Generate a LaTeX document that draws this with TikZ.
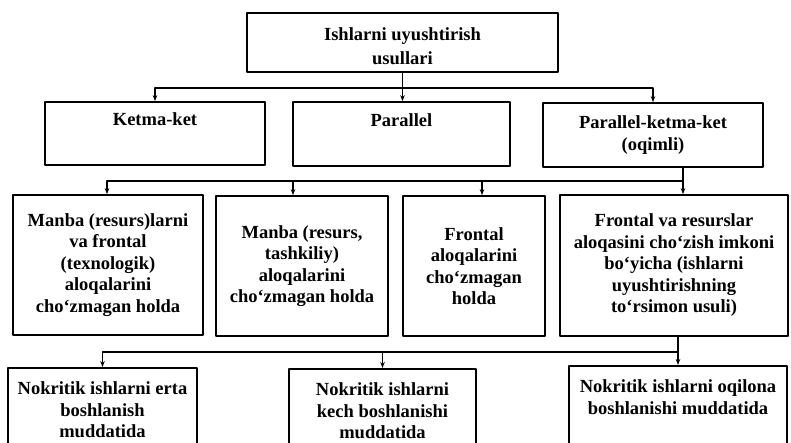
\documentclass[tikz,border=0pt]{standalone}
\usepackage{fontspec}
\setmainfont{Liberation Serif}
\usetikzlibrary{arrows.meta,calc}

\begin{document}
\begin{tikzpicture}[x=1pt, y=-1pt, >={Stealth[length=6pt,width=4.5pt]}, line join=round,
  box/.style={draw, line width=1.7pt, inner sep=0pt, align=center,
    font=\fontsize{18.5}{21.5}\selectfont\bfseries},
  openbox/.style={box, anchor=north, inner ysep=14pt, text depth=75pt},
  link/.style={line width=1.3pt}]
  \useasboundingbox (0,0) rectangle (791,442);
  % top
  \node[box, minimum width=311, minimum height=59, font=\fontsize{18.5}{23.5}\selectfont\bfseries] (top) at (402.5,42.5) {\rule{0pt}{20pt}Ishlarni uyushtirish\\usullari};
  % second row
  \node[box, minimum width=220, minimum height=63] (ketma) at (155,133.5) {Ketma-ket\\\strut};
  \node[box, minimum width=217, minimum height=64] (par) at (401.5,134) {Parallel\\\strut};
  \node[box, minimum width=220, minimum height=64] (pkk) at (653,135) {Parallel-ketma-ket\\(oqimli)};
  % third row
  \node[box, minimum width=190, minimum height=140] (manba) at (108,265) {Manba (resurs)larni\\va frontal\\(texnologik)\\aloqalarini\\cho‘zmagan holda};
  \node[box, minimum width=172, minimum height=140] (tashkil) at (302,266) {Manba (resurs,\\tashkiliy)\\aloqalarini\\cho‘zmagan holda};
  \node[box, minimum width=142, minimum height=140] (frontal) at (474,266) {Frontal\\aloqalarini\\cho‘zmagan\\holda};
  \node[box, minimum width=228, minimum height=141] (torsimon) at (674,265.5) {Frontal va resurslar\\aloqasini cho‘zish imkoni\\bo‘yicha (ishlarni\\uyushtirishning\\to‘rsimon usuli)};
  % fourth row
  \node[openbox, minimum width=189] (erta) at (102.5,367) {Nokritik ishlarni erta\\boshlanish\\muddatida};
  \node[openbox, minimum width=187] (kech) at (382.5,368) {Nokritik ishlarni\\kech boshlanishi\\muddatida};
  \node[openbox, minimum width=218] (oqilona) at (678,365) {Nokritik ishlarni oqilona\\boshlanishi muddatida};
  % buses
  \coordinate (bus1) at (0,88);
  \coordinate (bus2) at (0,181);
  \coordinate (bus3) at (0,352);
  \coordinate (pkkout) at ([xshift=30]pkk.south);
  \draw[link,->] (top.south) -- (top.south |- par.north);
  \draw[link,->] (top.south |- bus1) -| (ketma.north);
  \draw[link,->] (top.south |- bus1) -| (pkk.north);
  \draw[link,->] (pkkout) -- (pkkout |- torsimon.north);
  \draw[link,->] (pkkout |- bus2) -| ([xshift=-1]manba.north);
  \foreach \n/\dx in {tashkil/-9, frontal/8}
    \draw[link,->] ([xshift=\dx]\n.north |- bus2) -- ([xshift=\dx]\n.north);
  \draw[link,->] (oqilona.north |- torsimon.south) -- (oqilona.north);
  \draw[link,->] (oqilona.north |- bus3) -| (erta.north);
  \draw[link,->] (kech.north |- bus3) -- (kech.north);
\end{tikzpicture}
\end{document}
